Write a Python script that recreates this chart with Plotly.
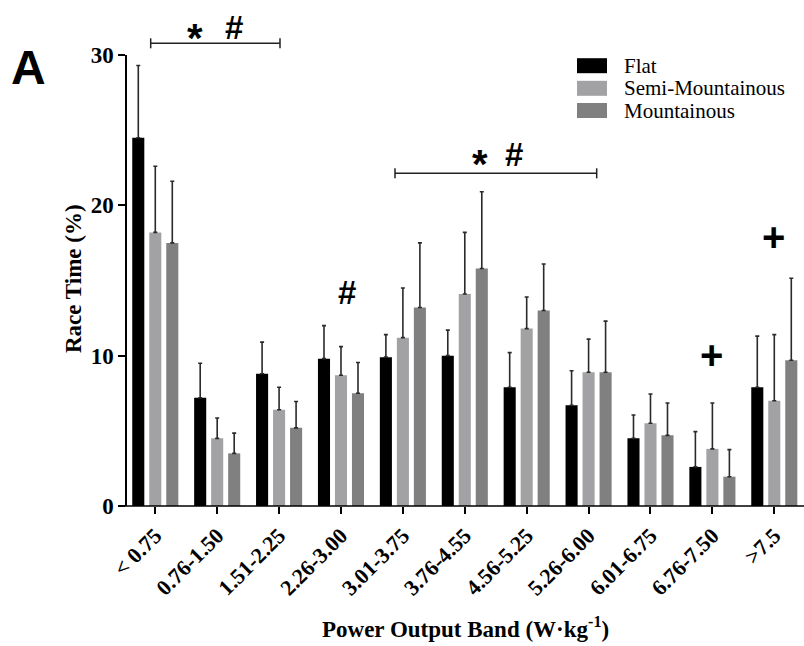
import plotly.graph_objects as go

categories = ["< 0.75", "0.76-1.50", "1.51-2.25", "2.26-3.00", "3.01-3.75", "3.76-4.55",
              "4.56-5.25", "5.26-6.00", "6.01-6.75", "6.76-7.50", ">7.5"]
flat_mean = [24.5, 7.2, 8.8, 9.8, 9.9, 10.0, 7.9, 6.7, 4.5, 2.6, 7.9]
flat_sd = [4.8, 2.3, 2.1, 2.2, 1.5, 1.7, 2.3, 2.3, 1.55, 2.35, 3.4]
semi_mean = [18.2, 4.5, 6.4, 8.7, 11.2, 14.1, 11.8, 8.9, 5.5, 3.8, 7.0]
semi_sd = [4.4, 1.35, 1.5, 1.9, 3.3, 4.1, 2.1, 2.2, 1.95, 3.05, 4.4]
mount_mean = [17.5, 3.5, 5.2, 7.5, 13.2, 15.8, 13.0, 8.9, 4.7, 1.95, 9.7]
mount_sd = [4.1, 1.35, 1.75, 2.05, 4.3, 5.1, 3.1, 3.4, 2.15, 1.8, 5.45]

series_names = ["Flat", "Semi-Mountainous", "Mountainous"]
colors = ["#000000", "#a2a2a5", "#808080"]

serif = "Times New Roman, Liberation Serif, serif"
sans = "Arial, Liberation Sans, sans-serif"

# plot area in pixels (for paper-coordinate helpers)
L, R, T, B = 127, 804, 55, 506
def px(xp):
    return (xp - L) / (R - L)
def py(yp):
    return (B - yp) / (B - T)

fig = go.Figure()
for name, m, sd, c in zip(series_names, [flat_mean, semi_mean, mount_mean],
                          [flat_sd, semi_sd, mount_sd], colors):
    fig.add_trace(go.Bar(
        x=categories, y=m, name=name, marker=dict(color=c, line=dict(width=0)),
        error_y=dict(type="data", array=sd, arrayminus=[0] * len(sd), symmetric=False,
                     color="#2a2a2a", thickness=1.6, width=2),
        showlegend=False,
    ))

fig.update_layout(
    width=804, height=646,
    margin=dict(l=L, r=804 - R, t=T, b=646 - B),
    paper_bgcolor="white", plot_bgcolor="white",
    barmode="group", bargap=0.176, bargroupgap=0.29,
    font=dict(family=serif, color="black"),
)
fig.update_xaxes(
    type="category", range=[-0.457, 10.48],
    showline=False, ticks="outside", ticklen=7, tickwidth=1.5, tickcolor="black",
    tickangle=-45, tickfont=dict(family=serif, size=22, color="black", weight="bold"),
    showgrid=False, zeroline=False,
)
fig.update_yaxes(
    range=[0, 30], tickvals=[0, 10, 20, 30],
    showline=True, linecolor="black", linewidth=1.5,
    ticks="outside", ticklen=7, tickwidth=1.5, tickcolor="black",
    tickfont=dict(family=serif, size=23, color="black", weight="bold"),
    showgrid=False, zeroline=False,
)

def note(text, xp, yp, size, family, angle=0, xanchor="center"):
    fig.add_annotation(text=text, xref="paper", yref="paper", x=px(xp), y=py(yp),
                       xanchor=xanchor, yanchor="middle", showarrow=False, textangle=angle,
                       font=dict(family=family, size=size, color="black"))

# axis titles
note("<b>Power Output Band (W·kg<sup>-1</sup>)</b>", 465, 627, 23, serif)
note("<b>Race Time (%)</b>", 73, 279, 23, serif, angle=-90)

# x axis line extending slightly left of y axis
fig.add_shape(type="line", xref="paper", yref="paper", x0=px(120), x1=1, y0=0, y1=0,
              line=dict(color="black", width=1.5))

# significance brackets (pixel-derived paper coordinates)
brackets = [(150.7, 280.0, 43.3), (395.0, 596.7, 173.3)]
for x0, x1, yb in brackets:
    fig.add_shape(type="line", xref="paper", yref="paper", x0=px(x0), x1=px(x1),
                  y0=py(yb), y1=py(yb), line=dict(color="#222", width=1.5))
    for xe in (x0, x1):
        fig.add_shape(type="line", xref="paper", yref="paper", x0=px(xe), x1=px(xe),
                      y0=py(yb - 5), y1=py(yb + 5), line=dict(color="#222", width=1.5))

# significance symbols
stars = [(195, 29), (480, 155)]
hashes = [(234, 27), (514, 154), (346.7, 292)]
plusses = [(711.7, 355), (773, 237)]
for xp, yp in stars:
    note("<b>*</b>", xp, yp + 9, 40, sans)
for xp, yp in hashes:
    note("<b>#</b>", xp, yp, 33, sans)
for xp, yp in plusses:
    note("<b>+</b>", xp, yp, 40, sans)

note("<b>A</b>", 28, 67, 48, sans)

# manual legend
legend_rows = [65.7, 88.3, 110.5]
for name, c, yc in zip(series_names, colors, legend_rows):
    fig.add_shape(type="rect", xref="paper", yref="paper",
                  x0=px(577), x1=px(607), y0=py(yc + 7.5), y1=py(yc - 7.5),
                  fillcolor=c, line=dict(width=0))
    note(name, 622, yc, 21, serif, xanchor="left")

fig.write_html("out.html")
